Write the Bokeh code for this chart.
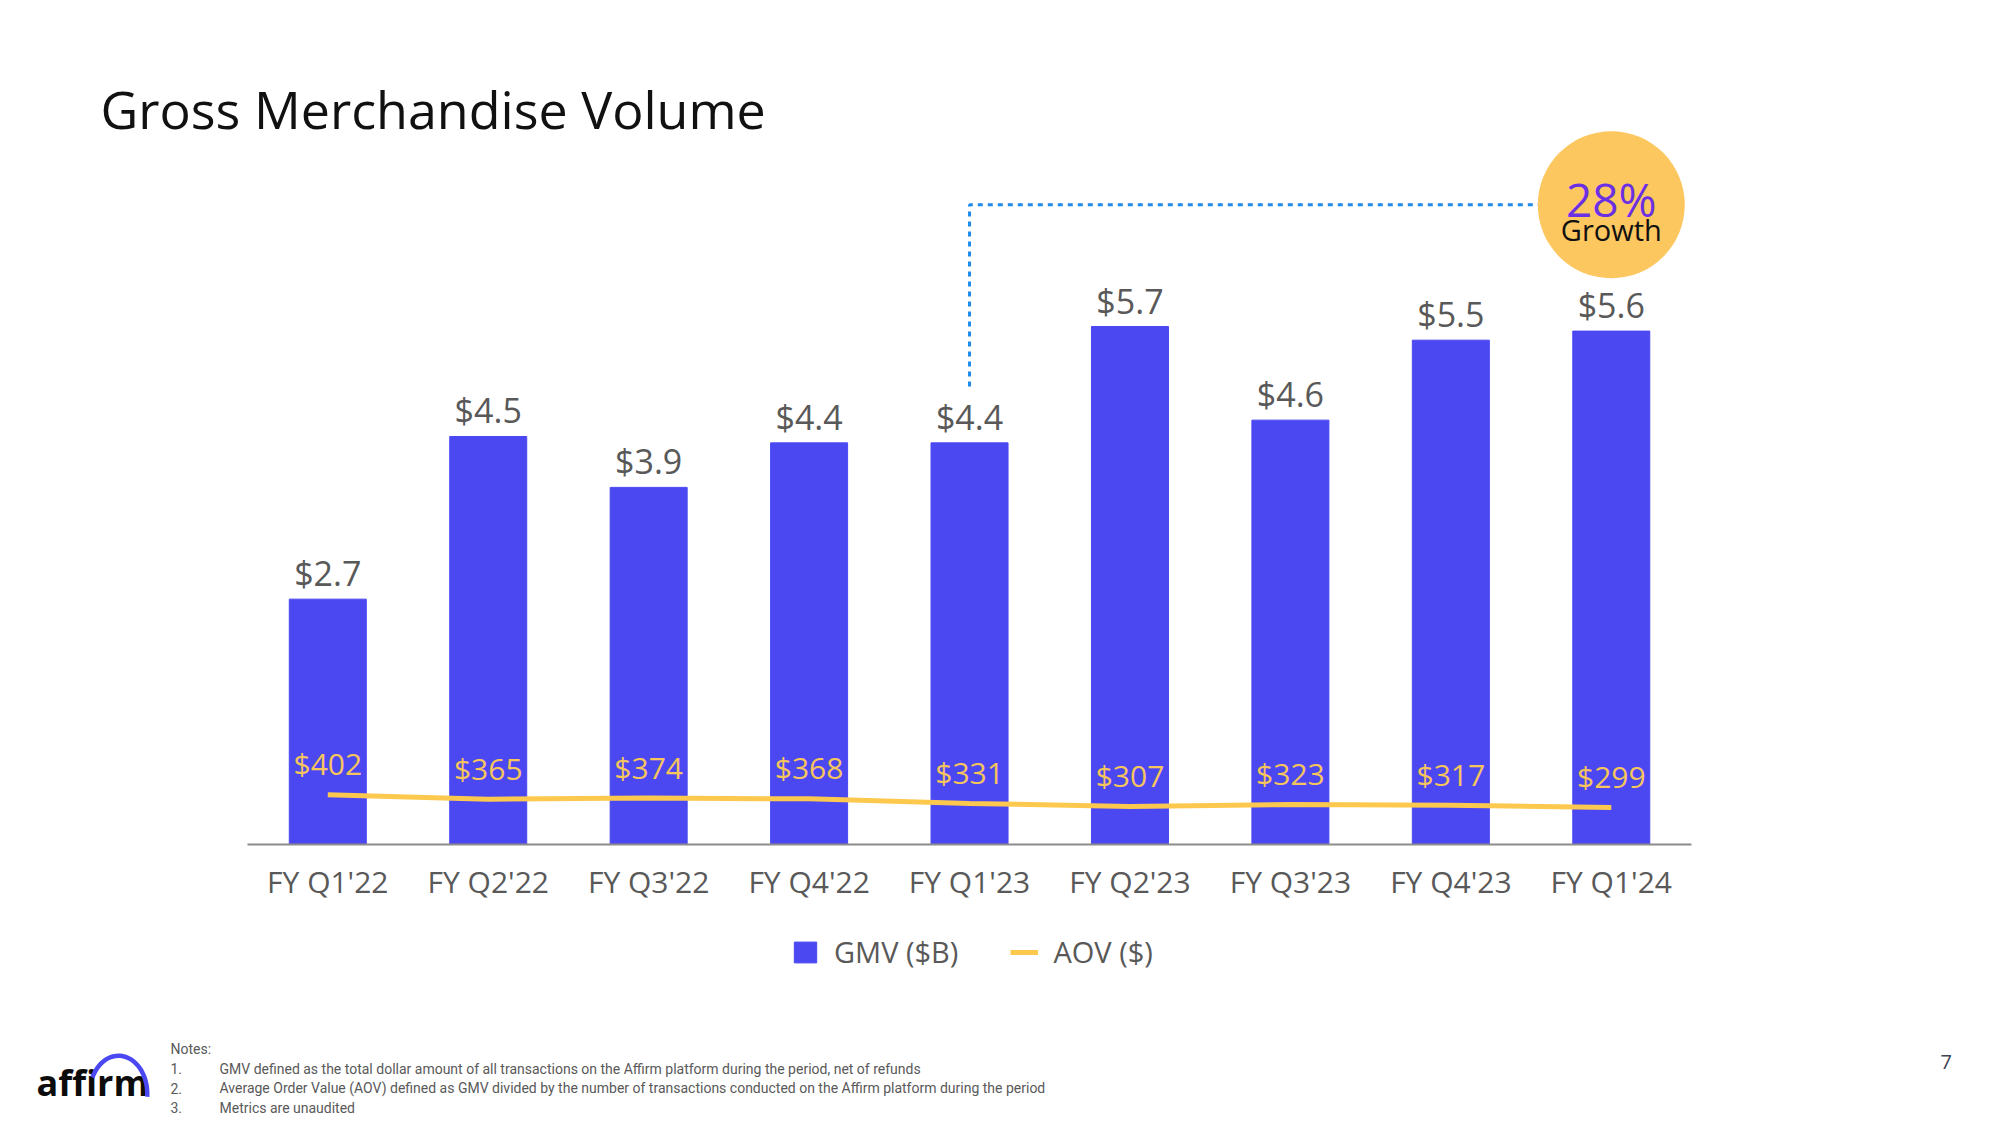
import math
from bokeh.plotting import figure
from bokeh.layouts import column
from bokeh.models import Range1d, FixedTicker, Label, Legend, LegendItem, PolyAnnotation
from bokeh.core.properties import value
from bokeh.embed import file_html
from bokeh.resources import INLINE

# ---------------- data ----------------
quarters = ["FY Q1'22", "FY Q2'22", "FY Q3'22", "FY Q4'22", "FY Q1'23",
            "FY Q2'23", "FY Q3'23", "FY Q4'23", "FY Q1'24"]
gmv = [2.70, 4.49, 3.93, 4.42, 4.42, 5.70, 4.67, 5.55, 5.65]
gmv_labels = ["$2.7", "$4.5", "$3.9", "$4.4", "$4.4", "$5.7", "$4.6", "$5.5", "$5.6"]
aov = [402, 365, 374, 368, 331, 307, 323, 317, 299]
aov_labels = ["$" + str(v) for v in aov]
growth_pct = "28%"
growth_word = "Growth"
title_text = "Gross Merchandise Volume"
notes_head = "Notes:"
note_nums = ["1.", "2.", "3."]
note_texts = [
    "GMV defined as the total dollar amount of all transactions on the Affirm platform during the period, net of refunds",
    "Average Order Value (AOV) defined as GMV divided by the number of transactions conducted on the Affirm platform during the period",
    "Metrics are unaudited",
]
page_no = "7"

# ---------------- style ----------------
FONT = "Open Sans"
BLUE = "#4B48F2"
GOLD = "#FCC94E"
GOLD_TXT = "#F6C55C"
GREY = "#595959"

xi = list(range(len(quarters)))

# ---------------- main chart ----------------
p = figure(width=2000, height=914, output_backend="svg", toolbar_location=None,
           x_range=Range1d(-2.04, 10.426), y_range=Range1d(0, 9.288),
           min_border_left=0, min_border_right=0,
           min_border_top=0, min_border_bottom=70,
           y_axis_location=None)
p.extra_y_ranges = {"aov": Range1d(0, 6806)}
p.outline_line_color = None
p.xgrid.visible = False
p.ygrid.visible = False
p.border_fill_color = "white"

xa = p.xaxis[0]
xa.ticker = FixedTicker(ticks=xi)
xa.major_label_overrides = {i: q for i, q in zip(xi, quarters)}
xa.bounds = (-0.5, len(quarters) - 0.5)
xa.axis_line_color = "#8c8c8c"
xa.axis_line_width = 2
xa.major_tick_line_color = None
xa.minor_tick_line_color = None
xa.major_tick_out = 0
xa.major_tick_in = 0
xa.minor_tick_out = 0
xa.minor_tick_in = 0
xa.major_label_standoff = 16
xa.major_label_text_font = FONT
xa.major_label_text_font_size = "30px"
xa.major_label_text_color = GREY

p.vbar(x=xi, top=gmv, width=0.48, fill_color=BLUE, line_color=BLUE)
p.text(x=xi, y=gmv, text=gmv_labels, text_align="center",
       text_baseline="middle", y_offset=-26, text_font=value(FONT),
       text_font_size="34px", text_color=GREY)

# connector & growth bubble
growth_y = 7.04
p.line(x=[xi[4], xi[4], xi[-1]],
       y=[gmv[4] + 0.62, growth_y, growth_y],
       line_color="#1C8BEA", line_width=3, line_dash="5 5")
p.scatter(x=[xi[-1]], y=[growth_y], size=147, marker="circle",
          fill_color="#FDC75F", line_color=None)
p.text(x=[xi[-1]], y=[growth_y], text=[growth_pct], text_align="center",
       text_baseline="middle", y_offset=-6, text_font=value(FONT),
       text_font_size="46px", text_color="#6B2FE4")
p.text(x=[xi[-1]], y=[growth_y], text=[growth_word], text_align="center",
       text_baseline="middle", y_offset=25, text_font=value(FONT),
       text_font_size="29px", text_color="#111111")

# AOV line
p.line(x=xi, y=aov, y_range_name="aov", line_color=GOLD, line_width=5)
p.text(x=xi, y=aov, y_range_name="aov", text=aov_labels,
       text_align="center", text_baseline="middle", y_offset=-31,
       text_font=value(FONT), text_font_size="30px", text_color=GOLD_TXT)

# title
p.add_layout(Label(x=100, y=736, x_units="screen", y_units="screen",
                   text=title_text, text_font=FONT, text_font_size="52px",
                   text_color="#111111", text_baseline="middle"))

# ---------------- footer: legend, notes, logo ----------------
f = figure(width=2000, height=211, output_backend="svg", toolbar_location=None,
           x_range=Range1d(0, 2000), y_range=Range1d(0, 211),
           min_border_left=0, min_border_right=0, min_border_top=0,
           min_border_bottom=0, x_axis_location=None, y_axis_location=None)
f.outline_line_color = None
f.xgrid.visible = False
f.ygrid.visible = False
f.border_fill_color = "white"

# hidden copies of the series, used only to draw the legend swatches
lg_bar = f.vbar(x=xi, top=gmv, width=0.48, fill_color=BLUE, line_color=BLUE, visible=False)
lg_line = f.line(x=xi, y=aov, line_color=GOLD, line_width=5, visible=False)
legend = Legend(items=[LegendItem(label="GMV ($B)", renderers=[lg_bar]),
                       LegendItem(label="AOV ($)", renderers=[lg_line])],
                location=(791, 154), orientation="horizontal",
                glyph_width=28, glyph_height=26, label_standoff=15, spacing=52,
                padding=0, margin=0, border_line_color=None,
                background_fill_alpha=0, label_text_font=FONT,
                label_text_font_size="29px", label_text_color=GREY,
                label_height=26)
f.add_layout(legend)

NOTE_FS = "14px"
f.add_layout(Label(x=170, y=77, x_units="screen", y_units="screen",
                   text=notes_head, text_font="Roboto", text_font_size=NOTE_FS,
                   text_color=GREY, text_baseline="middle"))
for i, (n, t) in enumerate(zip(note_nums, note_texts)):
    yy = 57 - 19.5 * i
    f.add_layout(Label(x=170, y=yy, x_units="screen", y_units="screen",
                       text=n, text_font="Roboto", text_font_size=NOTE_FS,
                       text_color=GREY, text_baseline="middle"))
    f.add_layout(Label(x=219, y=yy, x_units="screen", y_units="screen",
                       text=t, text_font="Roboto", text_font_size=NOTE_FS,
                       text_color=GREY, text_baseline="middle"))

f.add_layout(Label(x=1940, y=64, x_units="screen", y_units="screen",
                   text=page_no, text_font=FONT, text_font_size="20px",
                   text_color="#3d4552", text_baseline="middle"))

# affirm logo
f.add_layout(Label(x=36, y=43, x_units="screen", y_units="screen",
                   text="affirm", text_font=FONT, text_font_size="36px",
                   text_font_style="bold", text_color="#0c0c0c",
                   text_baseline="middle"))
cx, cy, rx, ry, th = 118, 32, 31, 40, 4.5
angs = [math.radians(a) for a in range(155, -7, -4)]
xs = [cx + rx * math.cos(t) for t in angs] + [cx + (rx - th) * math.cos(t) for t in reversed(angs)]
ys = [cy + ry * math.sin(t) for t in angs] + [cy + (ry - th) * math.sin(t) for t in reversed(angs)]
f.add_layout(PolyAnnotation(xs=xs, ys=ys, xs_units="screen", ys_units="screen",
                            fill_color=BLUE, fill_alpha=1, line_color=None))

page = column(p, f, spacing=0)
open("out.html", "w").write(file_html(page, INLINE))
